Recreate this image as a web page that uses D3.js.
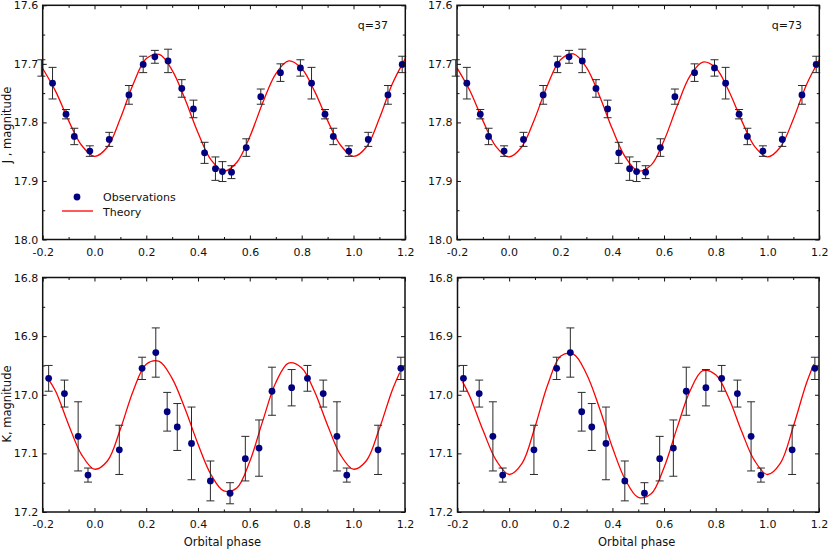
<!DOCTYPE html>
<html>
<head>
<meta charset="utf-8">
<script src="https://cdn.jsdelivr.net/npm/d3@7/dist/d3.min.js"></script>
<style>
body { margin: 0; background: #fff; }
svg { display: block; font-family: "DejaVu Sans", sans-serif; }
.axis path.domain { display: none; }
.axis line { stroke: #111; }
.axis text { font-size: 11px; fill: #111; font-family: "DejaVu Sans", sans-serif; }
</style>
</head>
<body>
<div id="chart"></div>
<script>
// J band observations (phase folded into 0..1), magnitude, error
var jPhase = [0.057, 0.133, 0.188, 0.233, 0.284, 0.337, 0.382, 0.425, 0.467, 0.494,
              0.529, 0.586, 0.642, 0.718, 0.795, 0.838, 0.890, 0.922, 0.982];
var jMag   = [17.829, 17.753, 17.701, 17.688, 17.695, 17.742, 17.777, 17.852, 17.879, 17.884,
              17.885, 17.843, 17.756, 17.715, 17.707, 17.733, 17.786, 17.824, 17.849];
var jErr   = [0.012, 0.016, 0.014, 0.011, 0.020, 0.015, 0.015, 0.018, 0.020, 0.017,
              0.011, 0.015, 0.013, 0.015, 0.014, 0.027, 0.008, 0.014, 0.009];

// K band observations
var kPhase = [0.096, 0.184, 0.237, 0.281, 0.320, 0.375, 0.448, 0.524, 0.583, 0.636,
              0.686, 0.762, 0.823, 0.884, 0.937, 0.975];
var kMag   = [17.094, 16.955, 16.928, 17.029, 17.055, 17.083, 17.147, 17.168, 17.109, 17.091,
              16.994, 16.988, 16.972, 16.998, 17.071, 17.137];
var kErr   = [0.042, 0.019, 0.042, 0.033, 0.040, 0.062, 0.034, 0.018, 0.038, 0.048,
              0.041, 0.031, 0.022, 0.023, 0.059, 0.012];

// theory curves
var jTheoryPhase = [-0.20, -0.15, -0.10, -0.05, 0.00, 0.05, 0.10, 0.15, 0.20, 0.25,
                    0.30, 0.35, 0.40, 0.45, 0.50, 0.55, 0.60, 0.65, 0.70, 0.75,
                    0.80, 0.85, 0.90, 0.95, 1.00, 1.05, 1.10, 1.15, 1.20];
var jTheory37 = [17.708, 17.747, 17.797, 17.839, 17.858, 17.842, 17.793, 17.734, 17.691, 17.684,
                 17.711, 17.761, 17.818, 17.864, 17.883, 17.868, 17.824, 17.766, 17.717, 17.695,
                 17.708, 17.747, 17.797, 17.839, 17.858, 17.842, 17.793, 17.734, 17.691];
var jTheory73 = [17.707, 17.746, 17.797, 17.841, 17.859, 17.842, 17.794, 17.736, 17.693, 17.683,
                 17.706, 17.754, 17.811, 17.859, 17.883, 17.873, 17.831, 17.773, 17.721, 17.697,
                 17.707, 17.746, 17.797, 17.841, 17.859, 17.842, 17.794, 17.736, 17.693];

var kTheoryPhase = [-0.18, -0.15, -0.10, -0.05, 0.00, 0.05, 0.10, 0.15, 0.20, 0.25,
                    0.30, 0.35, 0.40, 0.45, 0.50, 0.55, 0.60, 0.65, 0.70, 0.75,
                    0.80, 0.85, 0.90, 0.95, 1.00, 1.05, 1.10, 1.15, 1.18];
var kTheory37 = [16.972, 16.994, 17.051, 17.102, 17.127, 17.113, 17.059, 16.993, 16.948, 16.943,
                 16.972, 17.024, 17.084, 17.136, 17.164, 17.159, 17.114, 17.045, 16.980, 16.946,
                 16.954, 16.994, 17.051, 17.102, 17.127, 17.113, 17.059, 16.993, 16.962];
var kTheory73 = [16.978, 17.005, 17.062, 17.112, 17.136, 17.117, 17.055, 16.982, 16.934, 16.931,
                 16.965, 17.023, 17.090, 17.145, 17.175, 17.169, 17.124, 17.057, 16.994, 16.959,
                 16.966, 17.005, 17.062, 17.112, 17.136, 17.117, 17.055, 16.982, 16.948];

// ticks
var xTicks = [-0.2, 0.0, 0.2, 0.4, 0.6, 0.8, 1.0, 1.2];
var xMinor = [-0.1, 0.1, 0.3, 0.5, 0.7, 0.9, 1.1];
var jTicks = [17.6, 17.7, 17.8, 17.9, 18.0];
var jMinor = [17.65, 17.75, 17.85, 17.95];
var kTicks = [16.8, 16.9, 17.0, 17.1, 17.2];
var kMinor = [16.85, 16.95, 17.05, 17.15];

var qLabels = ["q=37", "q=73"];
var legendLabels = ["Observations", "Theory"];

var width = 830, height = 554;

var svg = d3.select("#chart").append("svg")
            .attr("width", width)
            .attr("height", height);

function fmt(d) { return d.toFixed(1); }

/**
*   drawPanel   one light curve box
*   @param box  {x0, x1, y0, y1} plot frame in pixels
*/
function drawPanel(id, box, o)
{
    var x = d3.scaleLinear().domain([-0.2, 1.2]).range([box.x0, box.x1]);
    var y = d3.scaleLinear().domain(o.yDomain).range([box.y0, box.y1]);

    var g = svg.append("g").attr("class", "panel");

    g.append("clipPath").attr("id", "clip" + id)
     .append("rect")
     .attr("x", box.x0).attr("y", box.y0)
     .attr("width", box.x1 - box.x0).attr("height", box.y1 - box.y0);

    // theory curve
    var line = d3.line()
                 .x(function(d, i) { return x(o.tPhase[i]); })
                 .y(function(d) { return y(d); })
                 .curve(d3.curveCatmullRom.alpha(0.5));

    g.append("path")
     .datum(o.tMag)
     .attr("d", line)
     .attr("clip-path", "url(#clip" + id + ")")
     .attr("fill", "none")
     .attr("stroke", "#ff0000")
     .attr("stroke-width", 1.3);

    // observations repeated over phase -0.2 .. 1.2
    var obs = [];
    [-1, 0, 1].forEach(function(s) {
        o.phase.forEach(function(p, i) {
            var ph = p + s;
            if (ph >= -0.212 && ph <= 1.212)
                obs.push({ p: ph, m: o.mag[i], e: o.err[i], dot: (ph >= -0.2 && ph <= 1.2) });
        });
    });

    var bars = g.selectAll(".err")
                .data(obs)
                .enter().append("g")
                .attr("class", "err")
                .attr("stroke", "#2a2a2a")
                .attr("stroke-width", 1);

    bars.append("line")
        .attr("x1", function(d) { return x(d.p); })
        .attr("x2", function(d) { return x(d.p); })
        .attr("y1", function(d) { return y(d.m - d.e); })
        .attr("y2", function(d) { return y(d.m + d.e); });

    [-1, 1].forEach(function(sg) {
        bars.append("line")
            .attr("x1", function(d) { return x(d.p) - 4; })
            .attr("x2", function(d) { return x(d.p) + 4; })
            .attr("y1", function(d) { return y(d.m + sg * d.e); })
            .attr("y2", function(d) { return y(d.m + sg * d.e); });
    });

    g.selectAll(".obs")
     .data(obs.filter(function(d) { return d.dot; }))
     .enter().append("circle")
     .attr("class", "obs")
     .attr("cx", function(d) { return x(d.p); })
     .attr("cy", function(d) { return y(d.m); })
     .attr("r", 3.4)
     .attr("fill", "#000080");

    // axes, ticks inward on all four sides
    g.append("g").attr("class", "axis")
     .attr("transform", "translate(0," + box.y1 + ")")
     .call(d3.axisBottom(x).tickValues(xTicks).tickSize(-4).tickPadding(8.5).tickFormat(fmt));
    g.append("g").attr("class", "axis")
     .attr("transform", "translate(0," + box.y1 + ")")
     .call(d3.axisBottom(x).tickValues(xMinor).tickSize(-2.5).tickFormat(""));
    g.append("g").attr("class", "axis")
     .attr("transform", "translate(0," + box.y0 + ")")
     .call(d3.axisTop(x).tickValues(xTicks).tickSize(-4).tickFormat(""));
    g.append("g").attr("class", "axis")
     .attr("transform", "translate(0," + box.y0 + ")")
     .call(d3.axisTop(x).tickValues(xMinor).tickSize(-2.5).tickFormat(""));
    g.append("g").attr("class", "axis")
     .attr("transform", "translate(" + box.x0 + ",0)")
     .call(d3.axisLeft(y).tickValues(o.yTicks).tickSize(-4).tickPadding(4.5).tickFormat(fmt));
    g.append("g").attr("class", "axis")
     .attr("transform", "translate(" + box.x0 + ",0)")
     .call(d3.axisLeft(y).tickValues(o.yMinor).tickSize(-2.5).tickFormat(""));
    g.append("g").attr("class", "axis")
     .attr("transform", "translate(" + box.x1 + ",0)")
     .call(d3.axisRight(y).tickValues(o.yTicks).tickSize(-4).tickFormat(""));
    g.append("g").attr("class", "axis")
     .attr("transform", "translate(" + box.x1 + ",0)")
     .call(d3.axisRight(y).tickValues(o.yMinor).tickSize(-2.5).tickFormat(""));

    // frame
    g.append("rect")
     .attr("x", box.x0).attr("y", box.y0)
     .attr("width", box.x1 - box.x0).attr("height", box.y1 - box.y0)
     .attr("fill", "none")
     .attr("stroke", "#111")
     .attr("stroke-width", 1.5);

    if (o.q)
        g.append("text")
         .attr("x", box.x1 - 47.5).attr("y", box.y0 + 24)
         .attr("font-size", "11px").attr("fill", "#111")
         .text(o.q);

    if (o.ylabel)
        g.append("text")
         .attr("transform", "translate(11," + o.ylabelY + ") rotate(-90)")
         .attr("text-anchor", "middle")
         .attr("font-size", "11.5px").attr("fill", "#111")
         .text(o.ylabel);

    if (o.xlabel)
        g.append("text")
         .attr("x", (box.x0 + box.x1) / 2 - 1.5).attr("y", box.y1 + 34)
         .attr("text-anchor", "middle")
         .attr("font-size", "11.5px").attr("fill", "#111")
         .text(o.xlabel);

    return g;
}

var topL = { x0: 42.7, x1: 405.3, y0: 5.3, y1: 239.5 };
var topR = { x0: 457, x1: 819.3, y0: 5.3, y1: 239.5 };
var botL = { x0: 42.7, x1: 405, y0: 277.5, y1: 512 };
var botR = { x0: 457.5, x1: 819, y0: 277.5, y1: 512 };

var p1 = drawPanel(1, topL, { yDomain: [17.6, 18.0], yTicks: jTicks, yMinor: jMinor,
    phase: jPhase, mag: jMag, err: jErr, tPhase: jTheoryPhase, tMag: jTheory37,
    q: qLabels[0], ylabel: "J , magnitude", ylabelY: 125 });
drawPanel(2, topR, { yDomain: [17.6, 18.0], yTicks: jTicks, yMinor: jMinor,
    phase: jPhase, mag: jMag, err: jErr, tPhase: jTheoryPhase, tMag: jTheory73,
    q: qLabels[1] });
drawPanel(3, botL, { yDomain: [16.8, 17.2], yTicks: kTicks, yMinor: kMinor,
    phase: kPhase, mag: kMag, err: kErr, tPhase: kTheoryPhase, tMag: kTheory37,
    ylabel: "K, magnitude", ylabelY: 404, xlabel: "Orbital phase" });
drawPanel(4, botR, { yDomain: [16.8, 17.2], yTicks: kTicks, yMinor: kMinor,
    phase: kPhase, mag: kMag, err: kErr, tPhase: kTheoryPhase, tMag: kTheory73,
    xlabel: "Orbital phase" });

// legend (top left panel)
var leg = p1.append("g").attr("class", "legend");
leg.append("circle").attr("cx", 77).attr("cy", 197).attr("r", 3.4).attr("fill", "#000080");
leg.append("line").attr("x1", 62).attr("x2", 93).attr("y1", 211).attr("y2", 211)
   .attr("stroke", "#ff0000").attr("stroke-width", 1.3);
leg.selectAll("text")
   .data(legendLabels)
   .enter().append("text")
   .attr("x", 103)
   .attr("y", function(d, i) { return 201 + i * 15; })
   .attr("font-size", "11px").attr("fill", "#111")
   .text(function(d) { return d; });
</script>
</body>
</html>
